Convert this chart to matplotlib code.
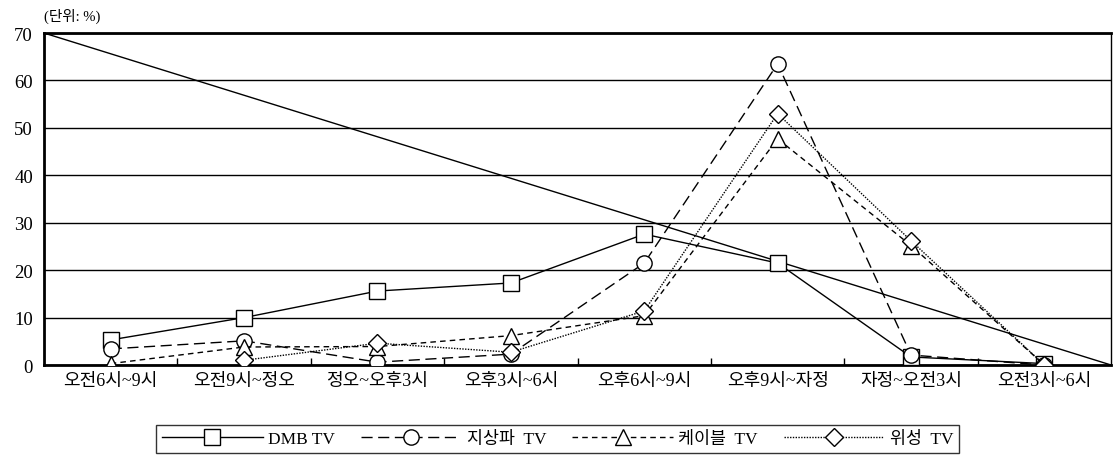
"""Viewing share by time slot for four TV platforms (line chart with open markers)."""
import numpy as np
import matplotlib.pyplot as plt

plt.rcParams['font.family'] = ['Liberation Serif', 'Noto Sans CJK KR']

SLOTS = ["오전6시~9시", "오전9시~정오", "정오~오후3시", "오후3시~6시",
         "오후6시~9시", "오후9시~자정", "자정~오전3시", "오전3시~6시"]

DMB = [5.3, 10.0, 15.6, 17.3, 27.6, 21.5, 1.7, 0.3]
TERRESTRIAL = [3.4, 5.1, 0.6, 2.3, 21.5, 63.5, 2.1, 0.0]
CABLE = [0.3, 3.8, 3.9, 6.2, 10.4, 47.7, 25.2, 0.0]
SATELLITE = [np.nan, 1.0, 4.6, 2.7, 11.4, 53.0, 26.2, 0.0]

SERIES = [
    ("DMB TV", DMB, "s", "-"),
    ("지상파  TV", TERRESTRIAL, "o", (0, (8, 4))),
    ("케이블  TV", CABLE, "^", (0, (4, 3))),
    ("위성  TV", SATELLITE, "D", (0, (1, 1))),
]


def main():
    fig = plt.figure(figsize=(11.15, 4.6), dpi=100)
    ax = fig.add_axes([0.0395, 0.2043, 0.957, 0.7217])

    x = np.arange(len(SLOTS))
    for label, vals, marker, ls in SERIES:
        ms = 11 if marker != "D" else 9
        ax.plot(x, vals, color="black", linestyle=ls, linewidth=1.0,
                marker=marker, markersize=ms, markerfacecolor="white",
                markeredgecolor="black", markeredgewidth=1.0, label=label,
                zorder=3)

    # stray corner-to-corner rule across the plot area
    ax.plot([0, 1], [1, 0], transform=ax.transAxes, color="black",
            linewidth=1.0, zorder=2)

    ax.set_xlim(-0.5, len(SLOTS) - 0.5)
    ax.set_ylim(0, 70)
    ax.set_yticks(np.arange(0, 71, 10))
    ax.tick_params(axis="y", length=0, labelsize=13.5, pad=8)
    ax.set_xticks(x)
    ax.set_xticklabels(SLOTS)
    ax.tick_params(axis="x", which="major", length=0, labelsize=13, pad=5)
    ax.set_xticks(np.arange(0.5, len(SLOTS) - 0.5, 1), minor=True)
    ax.tick_params(axis="x", which="minor", direction="in", length=5,
                   width=1.0)

    ax.yaxis.grid(True, color="black", linewidth=1.0)
    ax.set_axisbelow(True)
    for side in ("left", "bottom", "top"):
        ax.spines[side].set_linewidth(2.0)
    ax.spines["right"].set_linewidth(1.0)

    fig.text(0.0395, 0.965, "(단위: %)", fontsize=10.5, ha="left", va="center")

    leg = fig.legend(loc="center", bbox_to_anchor=(0.5, 0.044), ncol=4,
                     frameon=True, fancybox=False, edgecolor="black",
                     fontsize=12.5, handlelength=5.8, columnspacing=1.5,
                     borderpad=0.35, handletextpad=0.3)
    leg.get_frame().set_linewidth(1.0)

    fig.savefig("out.png", dpi=100)
    plt.close(fig)


if __name__ == "__main__":
    main()
